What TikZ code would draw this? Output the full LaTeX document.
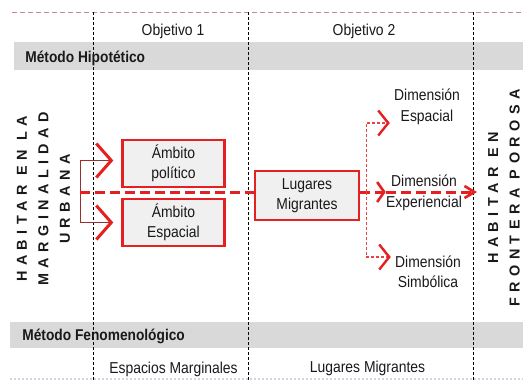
\documentclass[tikz,border=0pt]{standalone}
\usepackage{fontspec}
\setmainfont{Liberation Sans}[FakeStretch=0.88]
\newfontfamily\capsfont{Liberation Sans}[LetterSpace=38]
\usepackage{xcolor}
\usepackage{tikz}
\usetikzlibrary{positioning, arrows.meta, calc}
\definecolor{THRed}{RGB}{228,32,32}
\definecolor{THDark}{RGB}{160,45,45}
\definecolor{THBand}{RGB}{217,217,217}
\definecolor{THBox}{RGB}{240,240,240}
\definecolor{THMauve}{RGB}{196,135,145}
\definecolor{THFaint}{RGB}{205,214,225}
\newcommand{\lblfont}{\fontsize{7.9}{10.2}\selectfont}
\newcommand{\bandfont}{\bfseries\fontsize{7.8}{9}\selectfont}
\newcommand{\titlefont}{\capsfont\bfseries\fontsize{7.2}{10.75}\selectfont}

\begin{document}
\begin{tikzpicture}[x=0.5pt, y=-0.5pt,
    lbl/.style={font=\lblfont, inner sep=0pt, text=black!90},
    dimtext/.style={lbl, align=center},
    ambbox/.style={draw=THRed, line width=1.2pt, fill=THBox, align=center,
                   font=\lblfont, text=black!90, minimum width=51pt,
                   minimum height=23.5pt, inner sep=1pt},
    bandlbl/.style={font=\bandfont, inner sep=0pt, anchor=base west, text=black!90},
    vtitle/.style={font=\titlefont, rotate=90, align=center, inner sep=0pt, text=black!90},
    grid/.style={black, dash pattern=on 1.5pt off 1pt, line width=0.4pt},
    flow/.style={THRed, line width=1.5pt, dash pattern=on 5pt off 2.5pt},
    branch/.style={THRed!85, line width=0.6pt, dash pattern=on 1.5pt off 1pt},
    link/.style={THDark, line width=0.5pt},
    bigchev/.tip={Straight Barb[length=7.5pt, width=17pt, line width=1.5pt, color=THRed]},
    midchev/.tip={Straight Barb[length=3.5pt, width=10pt, line width=1.3pt, color=THRed]},
    endchev/.tip={Straight Barb[length=5pt, width=6pt, line width=1.3pt, color=THRed]},
    smallchev/.tip={Straight Barb[length=5pt, width=12.5pt, line width=1.2pt, color=THRed]}]
  \useasboundingbox (0,0) rectangle (523,382);

  % bands and grid
  \fill[THBand] (14,42) rectangle (523,70);
  \fill[THBand] (10,322) rectangle (523,348);
  \draw[THMauve, line width=0.5pt, dash pattern=on 2.5pt off 1.5pt] (12,12) -- (523,12);
  \draw[THFaint, line width=0.6pt, dash pattern=on 1pt off 1pt] (10,379) -- (523,379);
  \foreach \gx in {93, 248, 473}
    \draw[grid] (\gx,12) -- (\gx,382);

  \node[lbl, anchor=base] (obj1) at (173,35) {Objetivo 1};
  \node[lbl, anchor=base] (obj2) at (364,35) {Objetivo 2};
  \node[bandlbl] (hipo) at (25,62) {Método Hipotético};
  \node[bandlbl] (feno) at (22,340) {Método Fenomenológico};
  \node[lbl, anchor=base] (espmarg) at (173.5,373) {Espacios Marginales};
  \node[lbl, anchor=base] (lugmig) at (367.5,372) {Lugares Migrantes};

  \node[vtitle] (urbana) at (43.5,199) {HABITAR EN LA\\MARGINALIDAD\\URBANA};
  \node[vtitle] (porosa) at (504,198) {HABITAR EN\\FRONTERA POROSA};

  % boxes
  \node[ambbox] (pol) at (173.5,163.5) {Ámbito\\político};
  \node[ambbox] (esp) at (173.5,222.5) {Ámbito\\Espacial};
  \node[ambbox, minimum width=52pt, minimum height=24.5pt, line width=1.3pt]
        (lug) at (307,195.5) {Lugares\\Migrantes};

  \node[dimtext] (dimesp) at (427,107) {Dimensión\\Espacial};
  \node[dimtext] (dimexp) at (424,193) {Dimensión\\Experiencial};
  \node[dimtext] (dimsim) at (428,272) {Dimensión\\Simbólica};

  % connectors
  \coordinate (brk) at (80,192);
  \coordinate (exit) at (477,192);
  \draw[link, -bigchev] (brk) |- ($(pol.west)+(-8,-3)$);
  \draw[link, -bigchev] (brk) |- ($(esp.west)+(-8,0)$);

  \draw[flow] (brk) -- (lug.west |- brk);
  \draw[flow, -midchev] (lug.east |- brk) -- (dimexp.west |- brk);
  \draw[flow, -endchev] (dimexp.west |- brk) -- (exit);

  \coordinate (fork) at ($(lug.east |- brk)+(6,0)$);
  \draw[branch, -smallchev] (fork) |- ($(dimesp.west)+(-4,16)$);
  \draw[branch, -smallchev] (fork) |- ($(dimsim.west)+(-4,-15)$);
\end{tikzpicture}
\end{document}
